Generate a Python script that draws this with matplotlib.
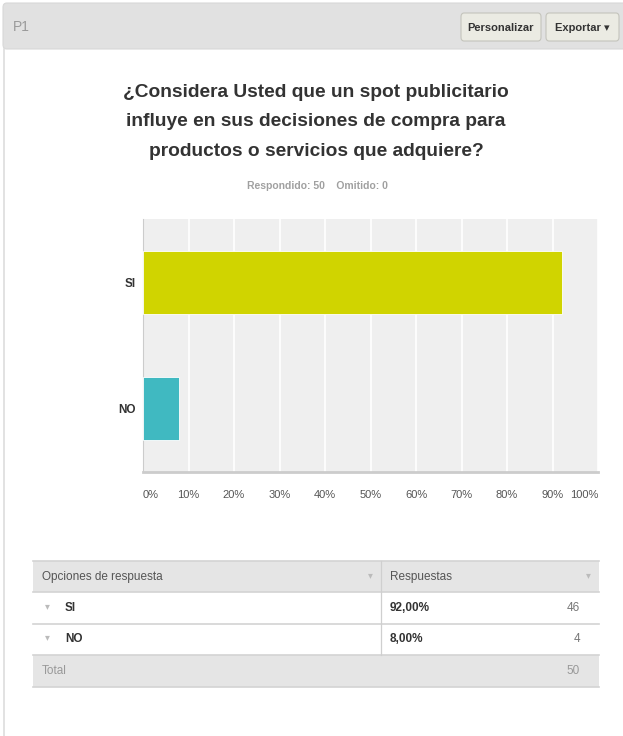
import matplotlib.pyplot as plt
from matplotlib.patches import Rectangle, FancyBboxPatch
from matplotlib.lines import Line2D

# survey answers
question = "¿Considera Usted que un spot publicitario\ninfluye en sus decisiones de compra para\nproductos o servicios que adquiere?"
options = ["SI", "NO"]
percents = [92.0, 8.0]
counts = [46, 4]
answered = 50
skipped = 0
bar_colors = ["#d0d400", "#40b9c1"]
xticks = [0, 10, 20, 30, 40, 50, 60, 70, 80, 90, 100]

W, H = 623, 736
FONT = ["Liberation Sans", "DejaVu Sans"]
plt.rcParams["font.family"] = FONT

fig = plt.figure(figsize=(W / 100, H / 100), dpi=100)
fig.patch.set_facecolor("white")


def fx(x):
    return x / W


def fy(y):
    return 1 - y / H


def rect(x0, y0, x1, y1, **kw):
    fig.patches.append(Rectangle((fx(x0), fy(y1)), fx(x1) - fx(x0), fy(y0) - fy(y1),
                                 transform=fig.transFigure, **kw))


def hline(x0, x1, y, color="#d6d6d6", lw=1.0):
    fig.lines.append(Line2D([fx(x0), fx(x1)], [fy(y), fy(y)], transform=fig.transFigure,
                            color=color, lw=lw))


def vline(x, y0, y1, color="#d6d6d6", lw=1.0):
    fig.lines.append(Line2D([fx(x), fx(x)], [fy(y0), fy(y1)], transform=fig.transFigure,
                            color=color, lw=lw))


def txt(x, y, s, **kw):
    fig.text(fx(x), fy(y), s, **kw)


# panel header
fig.patches.append(FancyBboxPatch((fx(3), fy(49)), fx(640) - fx(3), fy(3) - fy(49),
                                  boxstyle="round,pad=0,rounding_size=0.006",
                                  transform=fig.transFigure, fc="#e1e1e1", ec="#d8d8d8", lw=0.8))
vline(4, 49, 736, color="#dddddd", lw=1.2)
txt(13, 27, "P1", fontsize=10, color="#9a9a9a", va="center")

for x0, x1, label in [(461, 541, "Personalizar"), (546, 619, "Exportar ▾")]:
    fig.patches.append(FancyBboxPatch((fx(x0), fy(41)), fx(x1) - fx(x0), fy(13) - fy(41),
                                      boxstyle="round,pad=0,rounding_size=0.005",
                                      transform=fig.transFigure, fc="#ebebe3", ec="#c4c4bc", lw=0.8))
    txt((x0 + x1) / 2, 28, label, fontsize=8, fontweight="bold", color="#333333",
        ha="center", va="center", family=FONT)

# question and response summary
txt(316, 122, question, fontsize=13.8, fontweight="bold", color="#333333",
    ha="center", va="center", linespacing=1.95)
txt(317, 186, f"Respondido: {answered}    Omitido: {skipped}", fontsize=7.5, fontweight="bold",
    color="#a0a0a0", ha="center", va="center")

# horizontal bar chart
ax = fig.add_axes([fx(143), fy(472), fx(598) - fx(143), fy(219) - fy(472)])
ax.set_facecolor("#efefef")
ypos = list(range(len(options)))
ax.barh(ypos, percents, height=0.5, color=bar_colors, edgecolor="white", linewidth=0.6, zorder=3)
ax.set_xlim(0, 100)
ax.set_ylim(len(options) - 0.5, -0.5)
ax.set_xticks(xticks)
ax.set_xticklabels([f"{t}%" for t in xticks], fontsize=8, color="#555555")
ax.set_yticks(ypos)
ax.set_yticklabels(options, fontsize=8.5, fontweight="bold", color="#333333")
ax.tick_params(axis="x", length=0, pad=13)
ax.tick_params(axis="y", length=0, pad=5)
ax.xaxis.grid(True, color="white", lw=1.2, zorder=1)
ax.set_axisbelow(True)
labels = ax.get_xticklabels()
labels[0].set_horizontalalignment("left")
labels[-1].set_horizontalalignment("right")
for side in ["top", "right"]:
    ax.spines[side].set_visible(False)
ax.spines["left"].set_color("#cccccc")
ax.spines["bottom"].set_color("#cccccc")
ax.spines["bottom"].set_linewidth(2)

# summary table
tx0, tx1, tcol = 33, 599, 381
row_edges = [561, 592, 624, 655, 687]
rect(tx0, row_edges[0], tx1, row_edges[1], fc="#e5e5e5", ec="none")
rect(tx0, row_edges[3], tx1, row_edges[4], fc="#e5e5e5", ec="none")
for y in row_edges:
    hline(tx0, tx1, y, color="#d3d3d3", lw=1.2)
vline(tcol, row_edges[0], row_edges[3], color="#cfcfcf", lw=0.9)

txt(42, 577, "Opciones de respuesta", fontsize=8.5, color="#555555", va="center")
txt(390, 577, "Respuestas", fontsize=8.5, color="#555555", va="center")
txt(370, 575, "▾", fontsize=7, color="#bbbbbb", ha="center", va="center",
    family=["DejaVu Sans"])
txt(588, 575, "▾", fontsize=7, color="#bbbbbb", ha="center", va="center",
    family=["DejaVu Sans"])

for i, (opt, pct, n) in enumerate(zip(options, percents, counts)):
    yc = (row_edges[i + 1] + row_edges[i + 2]) / 2
    txt(47, yc - 2, "▾", fontsize=7, color="#bbbbbb", ha="center", va="center",
        family=["DejaVu Sans"])
    txt(65, yc, opt, fontsize=8.5, fontweight="bold", color="#333333", va="center")
    txt(390, yc, f"{pct:.2f}%".replace(".", ","), fontsize=8.5, fontweight="bold",
        color="#333333", va="center")
    txt(580, yc, str(n), fontsize=8.5, color="#777777", ha="right", va="center")

txt(42, 671, "Total", fontsize=8.5, color="#999999", va="center")
txt(580, 671, str(sum(counts)), fontsize=8.5, color="#999999", ha="right", va="center")

fig.savefig("out.png", dpi=100)
